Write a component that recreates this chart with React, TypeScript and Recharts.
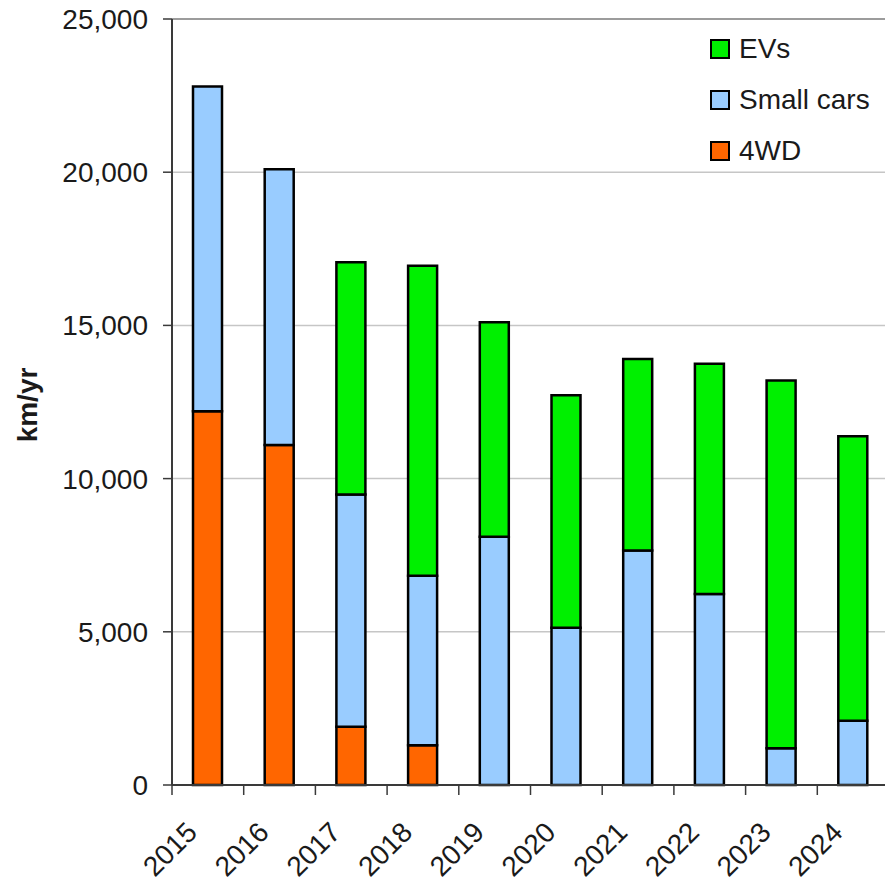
import React from 'react';
import { BarChart, Bar, XAxis, YAxis, CartesianGrid, Legend, ReferenceLine } from 'recharts';

const years = ['2015', '2016', '2017', '2018', '2019', '2020', '2021', '2022', '2023', '2024'];
const fourWd = [12200, 11100, 1900, 1300, 0, 0, 0, 0, 0, 0];
const smallCars = [10600, 9000, 7580, 5530, 8100, 5130, 7650, 6230, 1200, 2100];
const evs = [0, 0, 7580, 10120, 7000, 7590, 6250, 7520, 12000, 9280];
const yTicks = [0, 5000, 10000, 15000, 20000, 25000];

const data = years.map((year, i) => ({
  year,
  fourWd: fourWd[i],
  smallCars: smallCars[i],
  evs: evs[i],
}));

// legend runs top to bottom, reverse of the stacking order
const series = [
  { key: 'evs', name: 'EVs', color: '#00f000' },
  { key: 'smallCars', name: 'Small cars', color: '#99ccff' },
  { key: 'fourWd', name: '4WD', color: '#ff6600' },
];

const CHART_W = 890;
const CHART_H = 882;
const Y_AXIS_W = 172;
const X_AXIS_H = 97;
const MARGIN = { top: 19, right: 1, left: 0, bottom: 0 };
const PLOT_W = CHART_W - Y_AXIS_W - MARGIN.right - MARGIN.left;
const BAND = PLOT_W / years.length;

const FONT = '"Liberation Sans", Arial, sans-serif';
const TEXT = '#1a1a1a';
const AXIS = '#3a3a3a';

const YearTick = (props: any) => {
  const { x, y, payload } = props;
  const left = x - BAND / 2;
  return (
    <g>
      <line x1={left} y1={y} x2={left} y2={y + 10} stroke={AXIS} strokeWidth={1.5} />
      <text
        x={x - 9}
        y={y + 49}
        textAnchor="end"
        fontSize={28}
        fill={TEXT}
        transform={`rotate(-45, ${x - 9}, ${y + 49})`}
      >
        {payload.value}
      </text>
    </g>
  );
};

const SeriesLegend = () => (
  <div style={{ fontFamily: FONT, fontSize: 28, color: TEXT }}>
    {series.map((s) => (
      <div key={s.key} style={{ display: 'flex', alignItems: 'center', height: 51 }}>
        <span
          style={{
            display: 'inline-block',
            width: 16,
            height: 16,
            background: s.color,
            border: '2px solid #000',
            marginRight: 9,
          }}
        />
        <span>{s.name}</span>
      </div>
    ))}
  </div>
);

const App: React.FC = () => {
  return (
    <div
      style={{
        position: 'absolute',
        left: 0,
        top: 0,
        width: 885,
        height: 882,
        overflow: 'hidden',
        background: '#fff',
        fontFamily: FONT,
      }}
    >
      <BarChart width={CHART_W} height={CHART_H} data={data} margin={MARGIN} barSize={29}>
        <CartesianGrid vertical={false} stroke="#c6c6c6" strokeWidth={1.5} />
        <ReferenceLine y={25000} stroke="#8a8a8a" strokeWidth={1.5} />
        <XAxis
          dataKey="year"
          height={X_AXIS_H}
          interval={0}
          tickLine={false}
          tickSize={0}
          tickMargin={0}
          axisLine={{ stroke: AXIS, strokeWidth: 2 }}
          tick={<YearTick />}
        />
        <YAxis
          width={Y_AXIS_W}
          domain={[0, 25000]}
          ticks={yTicks}
          tickSize={9}
          tickMargin={15}
          tickFormatter={(v: number) => v.toLocaleString('en-US')}
          tick={{ fontSize: 28, fill: TEXT }}
          tickLine={{ stroke: AXIS, strokeWidth: 1.5 }}
          axisLine={{ stroke: AXIS, strokeWidth: 2 }}
          label={{
            content: () => (
              <text
                x={37}
                y={405}
                textAnchor="middle"
                fontSize={28}
                fontWeight="bold"
                fill={TEXT}
                transform="rotate(-90, 37, 405)"
              >
                km/yr
              </text>
            ),
          }}
        />
        <Legend
          layout="vertical"
          align="center"
          verticalAlign="middle"
          wrapperStyle={{ top: 23, left: 710, width: 180, height: 160 }}
          content={() => <SeriesLegend />}
        />
        <Bar dataKey="fourWd" name="4WD" stackId="a" fill="#ff6600" stroke="#000" strokeWidth={2.5} isAnimationActive={false} />
        <Bar dataKey="smallCars" name="Small cars" stackId="a" fill="#99ccff" stroke="#000" strokeWidth={2.5} isAnimationActive={false} />
        <Bar dataKey="evs" name="EVs" stackId="a" fill="#00f000" stroke="#000" strokeWidth={2.5} isAnimationActive={false} />
      </BarChart>
    </div>
  );
};

export default App;
